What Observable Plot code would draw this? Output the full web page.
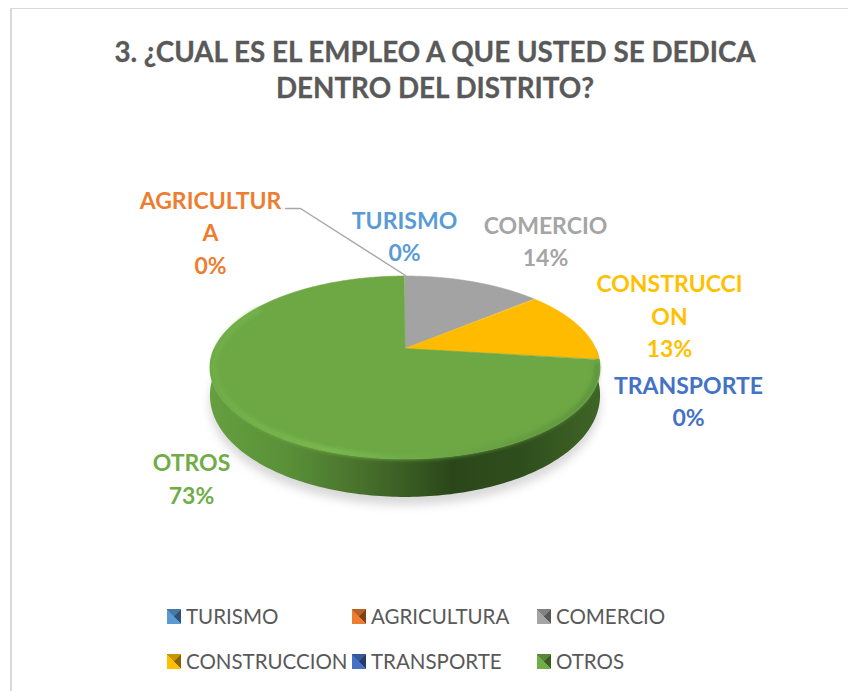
<!DOCTYPE html>
<html><head><meta charset="utf-8">
<style>
html,body{margin:0;padding:0;background:#fff;width:848px;height:691px;overflow:hidden;font-family:Lato,"Open Sans",sans-serif}
#frame{position:absolute;left:9.5px;top:8px;width:850px;height:700px;border:1.5px solid #d9d9d9;border-left-width:2px;box-sizing:border-box}
#title{position:absolute;left:0;top:34px;width:870px;text-align:center;color:#595959;font-weight:700;font-size:27.8px;line-height:36px;-webkit-text-stroke:0.3px #595959}
#chart{position:absolute;left:0;top:110px}
.shadow{filter:blur(5px)}
.rimblur{filter:blur(2.2px)}
.leg{position:absolute;font-size:20.5px;color:#595959;line-height:24px;white-space:nowrap}
.sw{position:absolute;width:14px;height:15px}
</style>
<script src="https://cdn.jsdelivr.net/npm/d3@7"></script>
<script src="https://cdn.jsdelivr.net/npm/@observablehq/plot@0.6"></script>
</head><body>
<div id="frame"></div>
<div id="title">3. ¿CUAL ES EL EMPLEO A QUE USTED SE DEDICA<br>DENTRO DEL DISTRITO?</div>
<div id="chart"></div>
<div id="legend"></div>
<script>
const categories = ["TURISMO","AGRICULTURA","COMERCIO","CONSTRUCCION","TRANSPORTE","OTROS"];
const values = [0,0,14,13,0,73];
const colors = ["#5b9bd5","#ed7d31","#a5a5a5","#ffc000","#4472c4","#70ad47"];
const topColors = ["#5b9bd5","#ed7d31","#a3a3a3","#ffbb00","#4472c4","#6da845"];

// layout (separate from the data)
const W = 848, H = 485, OY = 110;
const cx = 405, cy = 348.5 - OY, ax = 190.8, by = 87.5, k = 0.2076;
const project = (deg) => {
  const t = deg * Math.PI / 180, u = Math.sin(t), v = Math.cos(t), w = 1 + k * v;
  return {x: cx + ax * u / w, y: cy - by * v / w, v};
};
const depth = (v) => 25 + 13 * Math.max(0, -v);

// slices from values
let acc = 0;
const sliceRows = [];
values.forEach((val, i) => {
  const a0 = acc * 3.6, a1 = (acc + val) * 3.6;
  acc += val;
  if (val === 0) return;
  for (let d = a0; d <= a1 + 1e-6; d += 0.5) {
    const p = project(d);
    sliceRows.push({cat: categories[i], color: topColors[i], x2: p.x, y2: p.y, x1: cx, y1: cy});
  }
});
const ring = d3.range(90, 271, 1).map(d => {
  const p = project(d);
  return {x1: p.x, y1: p.y, x2: p.x, y2: p.y + depth(p.v), d};
});
const shadow = ring.map(r => ({x1: cx, y1: cy + 20, x2: r.x1, y2: r.y2 + 8}));
const rim = d3.range(100, 301, 1).map(d => {
  const p = project(d);
  return {x: cx + (p.x - cx) * 0.98, y: cy + (p.y - cy) * 0.98};
});

const labelRows = [
  {cat: 1, lines: ["AGRICULTUR","A","0%"], x: 210, y: 201 - OY},
  {cat: 0, lines: ["TURISMO","0%"], x: 404, y: 221 - OY},
  {cat: 2, lines: ["COMERCIO","14%"], x: 545, y: 226 - OY},
  {cat: 3, lines: ["CONSTRUCCI","ON","13%"], x: 669, y: 284.5 - OY},
  {cat: 4, lines: ["TRANSPORTE","0%"], x: 688, y: 386 - OY},
  {cat: 5, lines: ["OTROS","73%"], x: 191, y: 463.5 - OY}
].flatMap(l => l.lines.map((t, i) => ({t, x: l.x, y: l.y + i * 32.5, color: colors[l.cat]})));

const leader = [{x: 285, y: 208 - OY}, {x: 300, y: 208 - OY}, {x: 405, y: 275 - OY}];

const defs = () => {
  const d = d3.create("svg:defs");
  const grad = (id, stops) => {
    const g = d.append("linearGradient").attr("id", id).attr("gradientUnits", "userSpaceOnUse")
      .attr("x1", 210).attr("x2", 600).attr("y1", 0).attr("y2", 0);
    stops.forEach(([o, c]) => g.append("stop").attr("offset", o).attr("stop-color", c));
  };
  grad("wall", [[0,"#659f40"],[0.2,"#5a9038"],[0.4,"#466f2b"],[0.62,"#2b471a"],[0.8,"#2f4e1d"],[1,"#3f6526"]]);
  grad("rim", [[0,"#73b149"],[0.3,"#80c153"],[0.5,"#70ae48"],[0.8,"#62993e"],[1,"#5a8f39"]]);
  return d.node();
};

const plot = Plot.plot({
  width: W, height: H, margin: 0,
  x: {type: "linear", domain: [0, W], range: [0, W], axis: null},
  y: {type: "linear", domain: [0, H], range: [0, H], axis: null},
  marks: [
    defs,
    Plot.area(shadow, {x1: "x1", y1: "y1", x2: "x2", y2: "y2", fill: "#d8d8d8", className: "shadow"}),
    Plot.area(ring, {x1: "x1", y1: "y1", x2: "x2", y2: "y2", fill: "url(#wall)"}),
    Plot.area(sliceRows, {x1: "x1", y1: "y1", x2: "x2", y2: "y2", z: "cat", fill: "color", stroke: "color", strokeWidth: 0.6}),
    Plot.line(rim, {x: "x", y: "y", stroke: "url(#rim)", strokeWidth: 4, className: "rimblur"}),
    Plot.line(leader, {x: "x", y: "y", stroke: "#a6a6a6", strokeWidth: 1.4}),
    Plot.text(labelRows, {x: "x", y: "y", text: "t", fill: "color", fontSize: 23, fontWeight: 700, fontFamily: "Lato", textAnchor: "middle"})
  ]
});
document.getElementById("chart").appendChild(plot);

// legend
const legendPos = [[167,616],[352,616],[537,616],[167,661],[352,661],[537,661]];
const lg = document.getElementById("legend");
categories.forEach((c, i) => {
  const [x, y] = legendPos[i], col = colors[i];
  const dark = d3.color(col).darker(1.8).formatHex(), mid = d3.color(col).darker(0.7).formatHex();
  const sw = document.createElement("div");
  sw.className = "sw";
  sw.style.cssText = `left:${x}px;top:${y-7.5}px;background:conic-gradient(${mid} 0 45deg, ${dark} 45deg 135deg, ${col} 135deg 225deg, ${col} 225deg 315deg, ${mid} 315deg)`;
  const t = document.createElement("div");
  t.className = "leg";
  t.textContent = c;
  t.style.left = (x + 19) + "px";
  t.style.top = (y - 12.5) + "px";
  lg.appendChild(sw); lg.appendChild(t);
});
</script>
</body></html>
